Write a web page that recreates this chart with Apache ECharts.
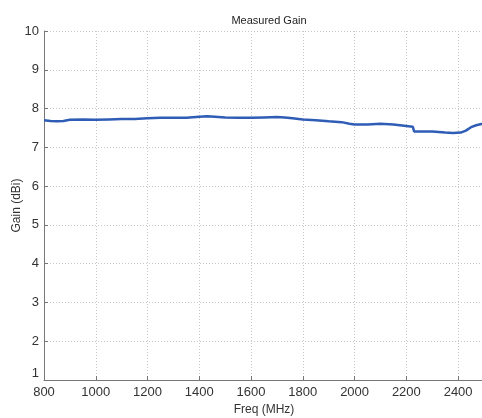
<!DOCTYPE html>
<html>
<head>
<meta charset="utf-8">
<script src="https://cdn.jsdelivr.net/npm/echarts@6/dist/echarts.min.js"></script>
<style>
html,body{margin:0;padding:0;background:#fff;}
#c{width:482px;height:418px;}
</style>
</head>
<body>
<div id="c"></div>
<script>
var titleText = 'Measured Gain';
var xName = 'Freq (MHz)';
var yName = 'Gain (dBi)';
var freqs = [800, 825, 850, 875, 900, 950, 1000, 1050, 1100, 1150, 1200, 1250, 1300, 1350, 1400, 1430, 1460, 1500, 1550, 1600, 1650, 1700, 1730, 1760, 1800, 1850, 1900, 1950, 1980, 2000, 2050, 2100, 2150, 2200, 2225, 2230, 2260, 2300, 2350, 2380, 2410, 2430, 2450, 2470, 2490, 2500];
var gains = [7.70, 7.68, 7.67, 7.68, 7.71, 7.72, 7.71, 7.72, 7.73, 7.73, 7.75, 7.76, 7.76, 7.76, 7.79, 7.80, 7.79, 7.77, 7.76, 7.76, 7.77, 7.78, 7.77, 7.75, 7.72, 7.70, 7.67, 7.65, 7.61, 7.59, 7.59, 7.61, 7.59, 7.55, 7.53, 7.41, 7.41, 7.41, 7.38, 7.37, 7.38, 7.43, 7.52, 7.57, 7.60, 7.60];

var pts = freqs.map(function(f, i){ return [f, gains[i]]; });
var chart = echarts.init(document.getElementById('c'));
var font = 'Liberation Sans, Arial, sans-serif';
chart.setOption({
  animation: false,
  title: {text: titleText, left: 264, top: 10, textAlign: 'center',
    textStyle: {fontSize: 11, fontWeight: 'normal', color: '#222', fontFamily: font}},
  grid: {left: 44, right: -2, top: 31, bottom: 38, containLabel: false, outerBoundsMode: 'none'},
  xAxis: {
    type: 'value', min: 800, max: 2500, interval: 200,
    name: xName, nameLocation: 'middle', nameGap: 22,
    nameTextStyle: {fontSize: 12, color: '#333', fontFamily: font},
    axisLine: {show: true, lineStyle: {color: '#777', width: 1}},
    axisTick: {show: true, inside: true, length: 4, lineStyle: {color: '#777'}},
    axisLabel: {fontSize: 13, color: '#333', fontFamily: font, margin: 6, showMaxLabel: false,
      formatter: function(v){ return String(v); }},
    splitLine: {show: true, lineStyle: {color: '#c8c8c8', type: [1, 2], width: 1}}
  },
  yAxis: {
    type: 'value', min: 1, max: 10, interval: 1,
    name: yName, nameLocation: 'middle', nameGap: 21, nameRotate: 90, nameMoveOverlap: false,
    nameTextStyle: {fontSize: 12, color: '#333', fontFamily: font},
    axisLine: {show: true, lineStyle: {color: '#777', width: 1}},
    axisTick: {show: true, inside: true, length: 4, lineStyle: {color: '#777'}},
    axisLabel: {fontSize: 13, color: '#333', fontFamily: font, margin: 5,
      formatter: function(v){ return v === 1 ? '1\n ' : String(v); }},
    splitLine: {show: true, lineStyle: {color: '#c8c8c8', type: [1, 2], width: 1}}
  },
  series: [{
    type: 'line', data: pts, showSymbol: false, smooth: false,
    lineStyle: {color: '#2f5db5', width: 2.5}
  }]
});
</script>
</body>
</html>
